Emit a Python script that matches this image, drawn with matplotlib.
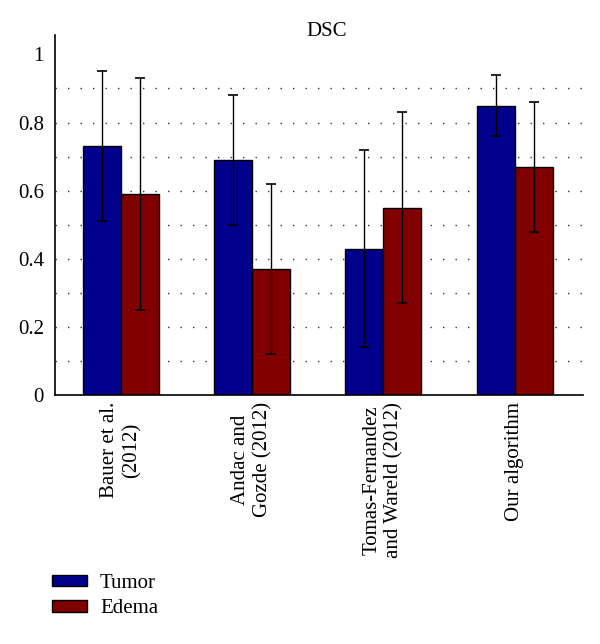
import matplotlib
matplotlib.use("Agg")
import matplotlib.pyplot as plt
import numpy as np
from matplotlib.patches import Patch

methods = ["Bauer et al.\n(2012)", "Andac and\nGozde (2012)",
           "Tomas-Fernandez\nand Wareld (2012)", "Our algorithm"]
tumor = [0.73, 0.69, 0.43, 0.85]
tumor_err = [0.22, 0.19, 0.29, 0.09]
edema = [0.59, 0.37, 0.55, 0.67]
edema_err = [0.34, 0.25, 0.28, 0.19]
yticks = [0, 0.2, 0.4, 0.6, 0.8, 1]
ytick_labels = ["0", "0.2", "0.4", "0.6", "0.8", "1"]
grid_levels = [0.1, 0.2, 0.3, 0.4, 0.5, 0.6, 0.7, 0.8, 0.9]

plt.rcParams['font.family'] = ['Liberation Serif', 'DejaVu Serif']

fig = plt.figure(figsize=(6.0, 6.44), dpi=100)
ax = fig.add_axes([55/600, 1-395/644, (583-55)/600, (395-35)/644])

x = np.arange(len(methods))
w = 0.29
blue = '#00008C'
red = '#800000'

for g in grid_levels:
    ax.axhline(g, color='#333333', lw=1.0, ls=(0, (1, 8)), zorder=0)

ax.bar(x - w/2, tumor, w, color=blue, edgecolor='black', linewidth=1.0, zorder=2)
ax.bar(x + w/2, edema, w, color=red, edgecolor='black', linewidth=1.0, zorder=2)
ax.errorbar(x - w/2, tumor, yerr=tumor_err, fmt='none', ecolor='black',
            elinewidth=1.0, capsize=3.5, capthick=1.2, zorder=3)
ax.errorbar(x + w/2, edema, yerr=edema_err, fmt='none', ecolor='black',
            elinewidth=1.0, capsize=3.5, capthick=1.2, zorder=3)

ax.set_xlim(-0.5, 3.52)
ax.set_ylim(0, 1.057)
ax.set_yticks(yticks)
ax.set_yticklabels(ytick_labels, fontsize=15)
ax.set_xticks(x)
ax.set_xticklabels(methods, rotation=90, fontsize=15, ha='center', va='top',
                   multialignment='center', linespacing=1.2)
ax.tick_params(axis='both', length=0)
ax.tick_params(axis='x', pad=5)
ax.tick_params(axis='y', pad=8)
for s in ['top', 'right']:
    ax.spines[s].set_visible(False)
for s in ['left', 'bottom']:
    ax.spines[s].set_linewidth(1.2)

fig.text(327/600, 1-32/644, "DSC", fontsize=15, ha='center', va='center')

handles = [Patch(facecolor=blue, edgecolor='black', linewidth=1.0),
           Patch(facecolor=red, edgecolor='black', linewidth=1.0)]
fig.legend(handles, ["Tumor", "Edema"], loc='center left',
           bbox_to_anchor=(52/600, 1-596/644), frameon=False, fontsize=15,
           handlelength=1.7, handleheight=0.5, handletextpad=0.6,
           borderpad=0, borderaxespad=0, labelspacing=0.3)

fig.savefig("out.png", dpi=100, facecolor='white')
